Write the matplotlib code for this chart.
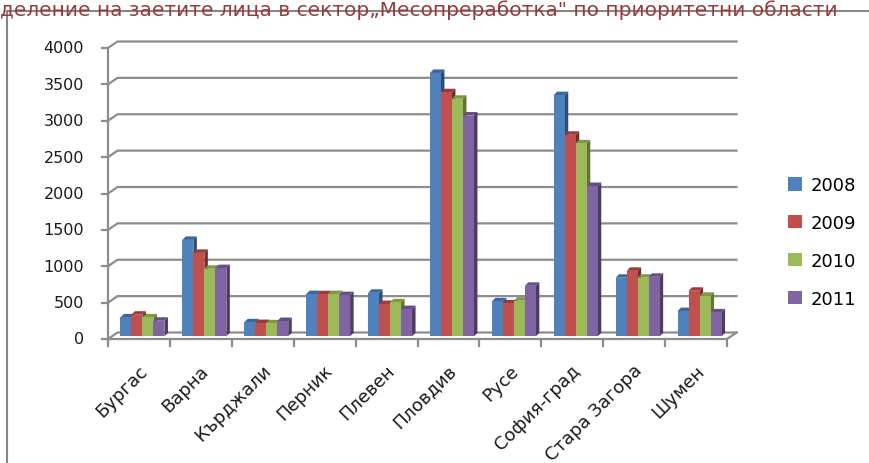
import matplotlib
matplotlib.use('Agg')
import matplotlib.pyplot as plt
from matplotlib.patches import Polygon, Rectangle
import numpy as np

# data
regions = ['Бургас', 'Варна', 'Кърджали', 'Перник', 'Плевен', 'Пловдив',
           'Русе', 'София-град', 'Стара Загора', 'Шумен']
years = ['2008', '2009', '2010', '2011']
v2008 = [260, 1325, 192, 580, 598, 3620, 480, 3315, 805, 347]
v2009 = [297, 1147, 182, 578, 443, 3355, 453, 2770, 900, 626]
v2010 = [260, 928, 178, 580, 466, 3265, 489, 2652, 805, 557]
v2011 = [214, 937, 210, 566, 374, 3035, 694, 2066, 818, 329]
yticks = [0, 500, 1000, 1500, 2000, 2500, 3000, 3500, 4000]
title = 'деление на заетите лица в сектор„Месопреработка" по приоритетни области'

face = ['#4f81bd', '#c0504d', '#9bbb59', '#8064a2']
side = ['#2c4d75', '#772c2a', '#5f7530', '#4d3b62']
topc = ['#3b679c', '#9c3c3a', '#7c9a44', '#654f85']
grid = '#8c8c8c'

W, H = 870, 464
fig = plt.figure(figsize=(W / 100, H / 100), dpi=100)
# axes = front plane of the 3d box, in pixels
ax_l, ax_r, ax_t, ax_b = 108, 727, 49, 340
ax = fig.add_axes([ax_l / W, 1 - ax_b / H, (ax_r - ax_l) / W, (ax_b - ax_t) / H])
ax.set_xlim(-0.5, 9.5)
ax.set_ylim(0, 4000)
ax.axis('off')

# data units per pixel
px_x = 10 / (ax_r - ax_l)
px_y = 4000 / (ax_b - ax_t)

# back wall offset
wdx, wdy = 9.5 * px_x, 6.5 * px_y
for t in yticks:
    ax.plot([-0.5, -0.5 + wdx, 9.5 + wdx], [t, t + wdy, t + wdy], color=grid,
            lw=1.6, clip_on=False, zorder=1, solid_joinstyle='miter')
    ax.plot([-0.5 - 6 * px_x, -0.5], [t, t], color=grid, lw=1.6,
            clip_on=False, zorder=1)
    ax.text(-0.5 - 24 * px_x, t, str(t), ha='right', va='center',
            fontsize=11.5, color='#1a1a1a')
# front left axis and floor front edge
ax.plot([-0.5, -0.5], [0, 4000], color=grid, lw=1.6, clip_on=False, zorder=1)
ax.plot([-0.5, 9.5, 9.5 + wdx], [0, 0, wdy], color=grid, lw=1.6,
        clip_on=False, zorder=1)
for b in np.arange(-0.5, 10, 1.0):
    ax.plot([b, b], [0, -7 * px_y], color=grid, lw=1.6, clip_on=False, zorder=1)

# bars
w = 11 * px_x
sx, sy = 3.5 * px_x, 2.7 * px_y
ddx, ddy = 3.5 * px_x, 3.5 * px_y
x = np.arange(len(regions))
series = [v2008, v2009, v2010, v2011]
for i, vals in enumerate(series):
    x0 = x - 2 * w + i * w + sx
    ax.bar(x0, vals, width=w, bottom=sy, align='edge', color=face[i],
           zorder=4 + 2 * i, label=years[i], linewidth=0)
    for xs, v in zip(x0, vals):
        t = sy + v
        x1 = xs + w
        ax.add_patch(Polygon([(xs, t), (xs + ddx, t + ddy), (x1 + ddx, t + ddy), (x1, t)],
                             closed=True, color=topc[i], lw=0, zorder=3 + 2 * i))
        ax.add_patch(Polygon([(x1, sy), (x1 + ddx, sy + ddy), (x1 + ddx, t + ddy), (x1, t)],
                             closed=True, color=side[i], lw=0, zorder=3 + 2 * i))

# category labels
for xi, name in zip(x, regions):
    ax.text(xi - 1 * px_x, -22 * px_y, name, rotation=45, ha='right', va='top',
            rotation_mode='anchor', fontsize=13, color='#1a1a1a')

leg = fig.legend(loc='center left', bbox_to_anchor=(779 / W, 1 - 243 / H),
                 frameon=False, fontsize=13, handlelength=0.75, handleheight=0.75,
                 labelspacing=1.1, handletextpad=0.5, borderpad=0)

# chart border and clipped title
fig.add_artist(Rectangle((7 / W, -0.1), 1.2, 1 - 12 / H + 0.1, transform=fig.transFigure,
                         fill=False, edgecolor='#878787', lw=1.5))
fig.text(0, 1 - 16 / H, title, ha='left', va='baseline', fontsize=14.5, color='#983a3a')

fig.savefig('out.png', dpi=100)
